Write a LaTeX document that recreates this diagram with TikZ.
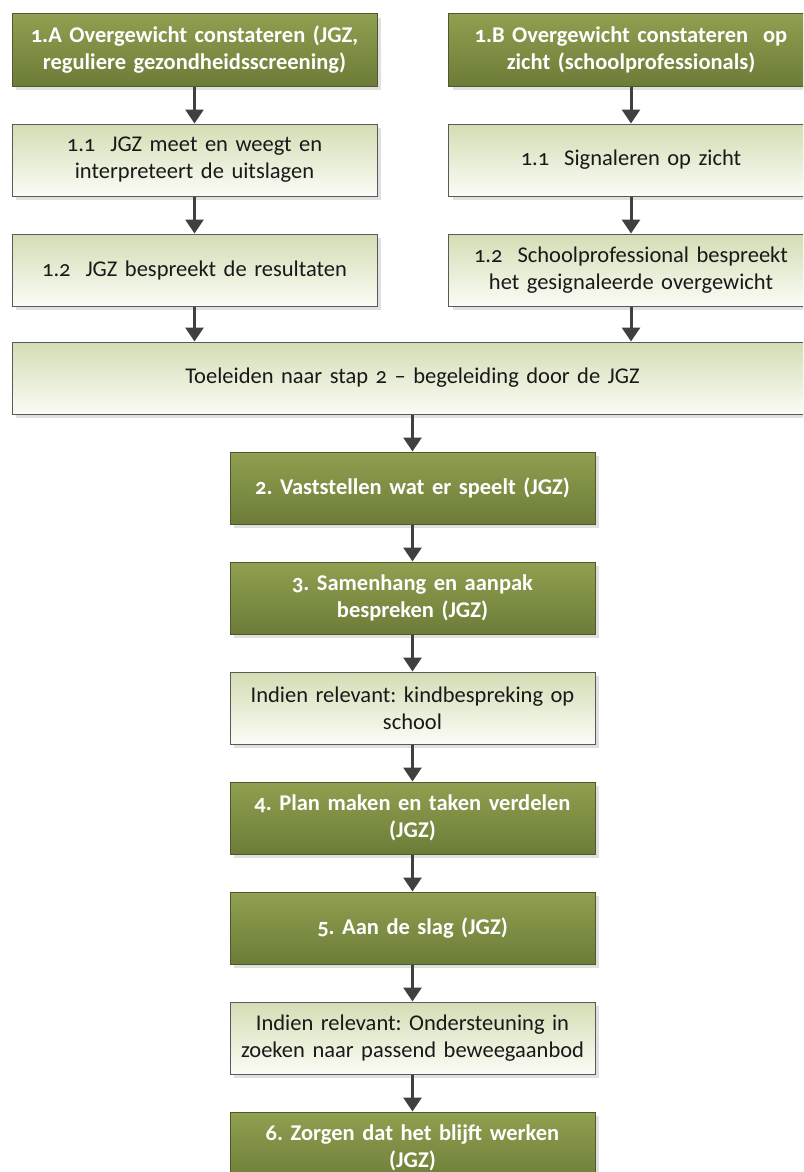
\documentclass[tikz,border=0pt]{standalone}
\usepackage{fontspec}
\setmainfont{Carlito}[Numbers=OldStyle]
\usetikzlibrary{positioning,shadows,arrows.meta}
\frenchspacing
\definecolor{donker}{RGB}{143,160,80}
\definecolor{donkeronder}{RGB}{108,124,56}
\definecolor{donkerrand}{RGB}{78,88,46}
\definecolor{licht}{RGB}{211,221,180}
\definecolor{lichtonder}{RGB}{251,252,246}
\definecolor{pijlkleur}{RGB}{64,64,64}
\tikzset{
  stapbox/.style={draw=donkerrand, line width=1pt, top color=donker, bottom color=donkeronder,
    minimum width=365pt, minimum height=72pt, text width=355pt, align=center, inner sep=0pt,
    text=white, font=\bfseries\fontsize{22.5}{27}\selectfont,
    drop shadow={shadow xshift=4pt, shadow yshift=-4pt, fill=black!12, opacity=1}},
  subbox/.style={draw=black!65, line width=1pt, top color=licht, bottom color=lichtonder,
    minimum width=365pt, minimum height=72pt, text width=355pt, align=center, inner sep=0pt,
    text=black!90, font=\fontsize{22.5}{27}\selectfont,
    drop shadow={shadow xshift=4pt, shadow yshift=-4pt, fill=black!12, opacity=1}},
  pijl/.style={draw=pijlkleur, line width=3pt, -{Triangle[width=18pt,length=14pt]}, fill=pijlkleur}
}
\begin{document}
\begin{tikzpicture}[x=1pt, y=-1pt, node distance=37pt]
  \clip (0,0) rectangle (803,1172);
  \fill[white] (0,0) rectangle (803,1172);
  % linker kolom
  \node[stapbox] (a0) at (194.5,50) {1.A Overgewicht constateren (JGZ,\\ reguliere gezondheidsscreening)};
  \node[subbox, below=of a0] (a1) {1.1\ \ JGZ meet en weegt en\\ interpreteert de uitslagen};
  \node[subbox, below=of a1] (a2) {1.2\ \ JGZ bespreekt de resultaten};
  % rechter kolom
  \node[stapbox] (b0) at (631,50) {1.B Overgewicht constateren\ \ op\\ zicht (schoolprofessionals)};
  \node[subbox, below=of b0] (b1) {1.1\ \ Signaleren op zicht};
  \node[subbox, below=of b1] (b2) {1.2\ \ Schoolprofessional bespreekt\\ het gesignaleerde overgewicht};
  % samenkomst
  \node[subbox, minimum width=801pt, text width=780pt] (toe) at (412.5,378) {Toeleiden naar stap 2 -- begeleiding door de JGZ};
  % middelste kolom
  \node[stapbox, below=of toe] (s2) {2. Vaststellen wat er speelt (JGZ)};
  \node[stapbox, below=of s2] (s3) {3. Samenhang en aanpak\\ bespreken (JGZ)};
  \node[subbox, below=of s3] (k1) {Indien relevant: kindbespreking op\\ school};
  \node[stapbox, below=of k1] (s4) {4. Plan maken en taken verdelen\\ (JGZ)};
  \node[stapbox, below=of s4] (s5) {5. Aan de slag (JGZ)};
  \node[subbox, below=of s5] (k2) {Indien relevant: Ondersteuning in\\ zoeken naar passend beweegaanbod};
  \node[stapbox, below=of k2] (s6) {6. Zorgen dat het blijft werken\\ (JGZ)};
  % pijlen
  \draw[pijl] (a0) -- (a1);
  \draw[pijl] (a1) -- (a2);
  \draw[pijl] (b0) -- (b1);
  \draw[pijl] (b1) -- (b2);
  \draw[pijl] (a2) -- (a2 |- toe.north);
  \draw[pijl] (b2) -- (b2 |- toe.north);
  \foreach \van/\naar in {toe/s2, s2/s3, s3/k1, k1/s4, s4/s5, s5/k2, k2/s6}
    \draw[pijl] (\van) -- (\naar);
\end{tikzpicture}
\end{document}
